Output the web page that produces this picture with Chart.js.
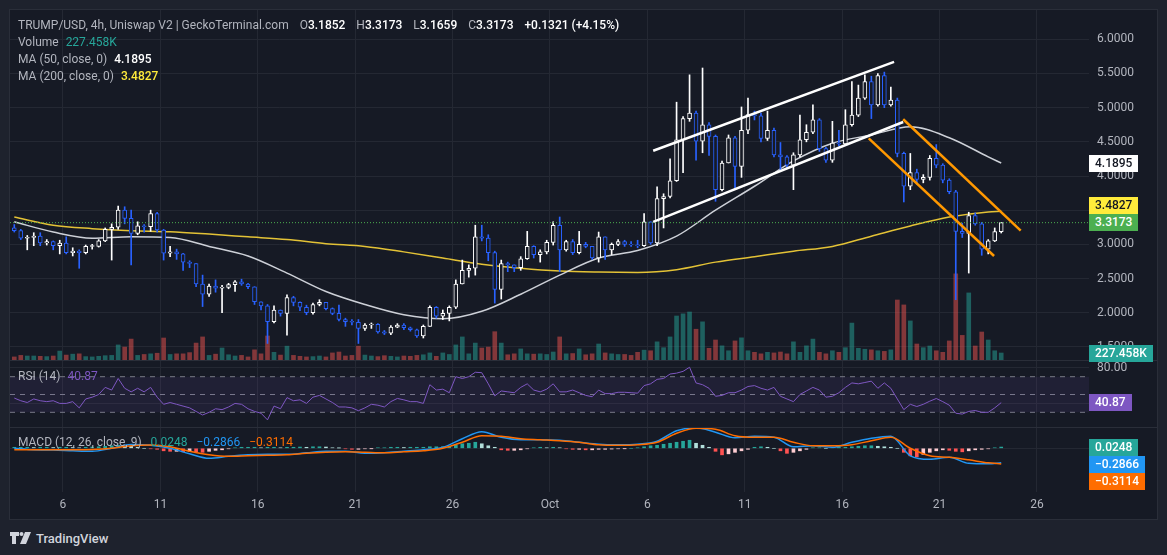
<!DOCTYPE html>
<html lang="en">
<head>
<meta charset="UTF-8">
<title>TRUMP/USD 4h</title>
<script src="https://cdn.jsdelivr.net/npm/chart.js"></script>
<style>
  html, body { margin: 0; padding: 0; }
  body { width: 1167px; height: 555px; position: relative; overflow: hidden; background: #1e222d; font-family: Roboto, sans-serif; }
  #panel { position: absolute; left: 9px; top: 9px; width: 1149px; height: 511px; box-sizing: border-box; background: #161a25; border: 1px solid #2a2e39; }
  canvas { position: absolute; left: 10px; }
  .sep { position: absolute; left: 10px; width: 1147px; height: 1px; background: #2a2e39; }
  .leg { position: absolute; left: 18px; font-size: 12px; line-height: 16px; color: #b2b5be; white-space: nowrap; }
  .leg b { font-weight: 500; color: #ffffff; }
  .leg .g { margin-left: 8px; }
  .tag { position: absolute; left: 1089px; height: 17px; line-height: 17px; padding: 0 6px; font-size: 12px; font-weight: 500; white-space: nowrap; }
  #logo { position: absolute; left: 10px; top: 530px; height: 16px; display: flex; align-items: center; color: #d1d4dc; font-size: 13px; font-weight: 500; }
</style>
</head>
<body>
<div id="panel"></div>
<canvas id="main" width="1147" height="350" style="top:10px"></canvas>
<canvas id="rsi" width="1147" height="67" style="top:360px"></canvas>
<canvas id="macd" width="1147" height="92" style="top:427px"></canvas>
<div class="sep" style="top:360px"></div>
<div class="sep" style="top:427px"></div>

<div class="leg" style="top:17px">TRUMP/USD, 4h, Uniswap V2 | GeckoTerminal.com
  <span class="g">O</span><b>3.1852</b> <span class="g">H</span><b>3.3173</b> <span class="g">L</span><b>3.1659</b> <span class="g">C</span><b>3.3173</b> <b class="g">+0.1321 (+4.15%)</b></div>
<div class="leg" style="top:34px">Volume <span style="margin-left:4px;color:#26a69a">227.458K</span></div>
<div class="leg" style="top:51px">MA (50, close, 0) <b style="margin-left:4px">4.1895</b></div>
<div class="leg" style="top:68px">MA (200, close, 0) <b style="margin-left:4px;color:#ffeb3b">3.4827</b></div>
<div class="leg" style="top:368px">RSI (14) <span style="margin-left:4px;color:#7e57c2">40.87</span></div>
<div class="leg" style="top:434px">MACD (12, 26, close, 9) <span style="margin-left:6px;color:#26a69a">0.0248</span> <span style="margin-left:6px;color:#2196f3">&minus;0.2866</span> <span style="margin-left:6px;color:#ff6d00">&minus;0.3114</span></div>

<div id="logo">
  <svg width="22" height="12" viewBox="0 0 22 12" style="margin-right:4px">
    <path d="M0 0h9v4H6v8H2V4H0z M15 0h6l-5 12h-6z" fill="#d1d4dc"/>
    <circle cx="11.5" cy="2" r="2" fill="#d1d4dc"/>
  </svg>TradingView
</div>

<script>
// time axis: candle index, 3 candles per day, first candle on Sep 3 12:00
const firstDay = 3.5;
const perDay = 3;
const tickDays = [6, 11, 16, 21, 26, 31, 36, 41, 46, 51, 56];
const tickLabels = ['6', '11', '16', '21', '26', 'Oct', '6', '11', '16', '21', '26'];

const firstOpen = 3.24;
const closes = [
  3.20, 3.09, 3.10, 3.12, 3.02, 3.04, 2.98, 3.02, 2.88, 2.90,
  2.88, 2.97, 2.97, 3.05, 3.22, 3.25, 3.50, 3.38, 3.16, 3.27,
  3.26, 3.45, 3.21, 2.87, 2.89, 2.86, 2.74, 2.72, 2.42, 2.27,
  2.39, 2.36, 2.37, 2.41, 2.45, 2.42, 2.38, 2.16, 2.10, 1.87,
  2.04, 1.99, 2.22, 2.15, 2.08, 2.00, 2.12, 2.15, 2.06, 1.99,
  1.90, 1.87, 1.86, 1.77, 1.82, 1.83, 1.72, 1.70, 1.79, 1.82,
  1.78, 1.75, 1.66, 1.80, 2.08, 1.95, 1.99, 2.08, 2.42, 2.62,
  2.65, 3.11, 3.09, 2.88, 2.34, 2.72, 2.70, 2.66, 2.79, 2.97,
  2.85, 2.89, 3.03, 3.28, 2.92, 3.04, 2.88, 3.00, 2.97, 2.80,
  3.11, 2.92, 3.00, 3.04, 3.00, 2.99, 2.98, 3.33, 3.02, 3.67,
  3.70, 3.93, 4.53, 4.84, 4.92, 4.51, 4.75, 4.58, 3.80, 4.19,
  4.56, 4.14, 4.67, 4.90, 4.88, 4.55, 4.67, 4.31, 4.28, 4.16,
  4.31, 4.53, 4.64, 4.82, 4.40, 4.23, 4.48, 4.47, 4.75, 4.89,
  5.14, 5.38, 5.04, 5.47, 5.04, 5.11, 4.33, 3.85, 4.05, 3.95,
  3.98, 4.26, 4.16, 3.94, 3.77, 3.19, 3.16, 3.42, 3.30, 2.93,
  3.05, 3.1852, 3.3173
];
const highs = [
  3.29, 3.22, 3.13, 3.17, 3.17, 3.07, 3.05, 3.06, 3.11, 2.95,
  2.92, 2.99, 3.00, 3.07, 3.24, 3.30, 3.56, 3.55, 3.50, 3.33,
  3.29, 3.50, 3.47, 3.22, 2.97, 2.93, 2.87, 2.76, 2.72, 2.55,
  2.42, 2.48, 2.40, 2.43, 2.47, 2.49, 2.43, 2.38, 2.16, 2.12,
  2.10, 2.04, 2.26, 2.24, 2.16, 2.11, 2.14, 2.19, 2.15, 2.07,
  2.11, 1.92, 1.90, 1.90, 1.84, 1.85, 1.84, 1.74, 1.81, 1.84,
  1.84, 1.79, 1.76, 1.82, 2.10, 2.09, 2.04, 2.10, 2.48, 2.77,
  2.70, 3.28, 3.28, 3.14, 2.90, 2.77, 2.74, 2.70, 2.82, 3.19,
  2.98, 2.92, 3.06, 3.33, 3.40, 3.06, 3.07, 3.19, 3.03, 2.97,
  3.18, 3.10, 3.02, 3.07, 3.06, 3.04, 3.06, 3.45, 3.33, 3.84,
  3.74, 4.25, 5.08, 4.87, 5.48, 4.95, 5.58, 4.78, 4.60, 4.22,
  4.60, 4.58, 5.01, 5.14, 4.95, 4.92, 4.95, 4.70, 4.49, 4.30,
  4.34, 4.89, 4.75, 5.04, 4.84, 4.42, 4.80, 4.67, 4.97, 5.38,
  5.33, 5.48, 5.46, 5.50, 5.52, 5.30, 5.14, 4.35, 4.33, 4.10,
  4.02, 4.30, 4.46, 4.18, 3.96, 3.79, 3.31, 3.47, 3.46, 3.32,
  3.07, 3.24, 3.3173
];
const lows = [
  3.18, 3.07, 2.92, 2.98, 2.98, 2.99, 2.92, 2.86, 2.86, 2.83,
  2.65, 2.86, 2.93, 2.96, 3.04, 2.77, 3.22, 3.30, 2.70, 3.14,
  3.18, 3.19, 3.18, 2.77, 2.82, 2.78, 2.62, 2.66, 2.38, 2.09,
  2.24, 2.30, 2.00, 2.35, 2.31, 2.40, 2.35, 2.12, 2.04, 1.55,
  1.85, 1.95, 1.67, 2.10, 2.03, 1.97, 1.98, 2.10, 2.04, 1.97,
  1.88, 1.80, 1.82, 1.55, 1.74, 1.77, 1.70, 1.68, 1.68, 1.78,
  1.75, 1.73, 1.64, 1.63, 1.84, 1.92, 1.90, 1.88, 2.06, 2.44,
  2.52, 2.55, 3.05, 2.76, 2.14, 2.20, 2.60, 2.60, 2.62, 2.78,
  2.80, 2.74, 2.86, 2.99, 2.60, 2.90, 2.85, 2.86, 2.95, 2.78,
  2.74, 2.78, 2.85, 2.98, 2.97, 2.97, 2.95, 2.97, 3.00, 2.98,
  3.24, 3.68, 3.92, 4.05, 4.80, 4.23, 4.34, 4.30, 3.63, 3.78,
  4.20, 3.80, 3.98, 4.62, 4.82, 4.50, 4.52, 4.28, 4.09, 4.12,
  3.80, 4.28, 4.50, 4.62, 4.36, 4.20, 4.20, 4.44, 4.45, 4.73,
  4.87, 5.12, 4.84, 5.02, 5.00, 5.02, 4.28, 3.62, 3.80, 3.88,
  3.90, 3.94, 4.12, 3.90, 3.74, 2.19, 3.10, 2.58, 3.28, 2.84,
  2.86, 3.04, 3.1659
];
// volume in thousands
const volumes = [
  100, 150, 130, 130, 120, 110, 130, 290, 160, 190,
  200, 110, 100, 120, 140, 150, 490, 420, 680, 150,
  180, 200, 220, 715, 180, 200, 200, 240, 550, 750,
  150, 190, 390, 170, 130, 150, 100, 330, 200, 780,
  250, 160, 450, 150, 120, 100, 110, 130, 100, 230,
  260, 130, 150, 450, 160, 130, 110, 140, 120, 100,
  130, 120, 150, 170, 230, 120, 230, 180, 490, 750,
  200, 550, 390, 420, 920, 550, 170, 200, 360, 200,
  190, 200, 180, 260, 750, 200, 210, 360, 170, 200,
  520, 230, 200, 180, 180, 150, 250, 320, 300, 590,
  400, 750, 1430, 1500, 1560, 1000, 1240, 380, 650, 460,
  300, 620, 720, 300, 250, 200, 250, 230, 260, 200,
  590, 250, 460, 680, 250, 200, 300, 250, 400, 1200,
  380, 350, 330, 300, 280, 330, 1950, 1790, 1270, 520,
  400, 455, 300, 250, 620, 2800, 800, 2180, 455, 910,
  650, 300, 227.458
];

// moving averages, read every 6th candle
const maIdx = [0, 6, 12, 18, 24, 30, 36, 42, 48, 54, 60, 66, 72, 78, 84, 90, 96, 102, 108, 114, 120, 126, 132, 138, 144, 150, 152];
const ma50 = [3.33, 3.18, 3.09, 3.11, 3.10, 2.97, 2.83, 2.58, 2.31, 2.12, 1.97, 1.91, 2.02, 2.27, 2.55, 2.80, 2.91, 3.12, 3.50, 3.85, 4.22, 4.48, 4.60, 4.72, 4.56, 4.28, 4.1895];
const ma200 = [3.40, 3.28, 3.23, 3.20, 3.185, 3.15, 3.11, 3.07, 3.01, 2.97, 2.89, 2.80, 2.71, 2.65, 2.61, 2.595, 2.59, 2.63, 2.74, 2.82, 2.90, 2.97, 3.12, 3.27, 3.40, 3.475, 3.4827];

// drawn channels: [start index, end index] and [start price, end price]
const trendX = [[98.4, 135.5], [98.4, 136.9], [136.9, 155.0], [131.6, 150.9]];
const trendY = [[4.37, 5.67], [3.33, 4.79], [4.83, 3.20], [4.55, 2.83]];

const rsi = [
  46, 43, 41, 45, 43, 42, 43, 40, 40, 42,
  35, 45, 47, 50, 58, 55, 68, 57, 53, 57,
  53, 58, 47, 39, 41, 39, 37, 35, 31, 27,
  30, 34, 33, 36, 40, 39, 34, 31, 29, 21.5,
  37, 34, 46.5, 43, 44, 40, 47, 49, 45, 41,
  36, 36, 35, 31.8, 35, 39, 38, 36, 42, 45.6,
  44, 42, 42, 40, 61, 55, 56, 52, 70, 68,
  70, 75, 74.5, 62, 48.5, 54, 53, 52, 58, 62,
  55, 53, 56, 62, 53, 53, 55, 52, 49, 47.5,
  55, 51, 51, 52.5, 52.5, 52, 51.5, 60, 62, 67,
  68, 73, 74, 76, 80.6, 63, 61, 57, 48, 49,
  52, 52, 55, 59, 60, 57, 55, 58, 48, 45,
  42, 50, 54, 58, 55, 47, 48, 52, 58, 63,
  62, 63.5, 65, 57, 63, 57, 45, 33, 39, 36.5,
  39, 42.5, 45.5, 42, 38, 29, 28, 31, 32, 30,
  30, 35, 40.87
];
const rsiLevels = [70, 50, 30];

// MACD lines read every 3rd candle
const macdIdx = [0, 3, 6, 9, 12, 15, 18, 21, 24, 27, 30, 33, 36, 39, 42, 45, 48, 51, 54, 57, 60, 63, 66, 69, 72, 75, 78, 81, 84, 87, 90, 93, 96, 99, 102, 105, 108, 111, 114, 117, 120, 123, 126, 129, 132, 135, 138, 141, 144, 147, 150, 152];
const macdLine = [0.0, -0.03, -0.035, -0.05, -0.06, 0.0, 0.075, 0.06, 0.0, -0.11, -0.2, -0.16, -0.13, -0.12, -0.12, -0.09, -0.06, -0.06, -0.10, -0.09, -0.06, -0.03, 0.02, 0.19, 0.33, 0.22, 0.17, 0.17, 0.16, 0.12, 0.08, 0.07, 0.08, 0.14, 0.35, 0.41, 0.32, 0.21, 0.24, 0.22, 0.03, 0.05, 0.02, 0.12, 0.20, 0.24, -0.15, -0.22, -0.18, -0.30, -0.31, -0.2866];
const signalLine = [-0.03, -0.03, -0.03, -0.03, -0.025, 0.0, 0.05, 0.065, 0.03, -0.06, -0.13, -0.16, -0.15, -0.14, -0.13, -0.10, -0.08, -0.07, -0.08, -0.09, -0.07, -0.05, 0.0, 0.12, 0.25, 0.24, 0.19, 0.17, 0.15, 0.12, 0.07, 0.06, 0.07, 0.12, 0.30, 0.40, 0.38, 0.25, 0.22, 0.22, 0.12, 0.05, 0.05, 0.07, 0.15, 0.22, 0.0, -0.15, -0.18, -0.23, -0.29, -0.3114];
const histogram = [
  0.02, 0.02, 0.02, 0.015, 0.02, 0.02, 0.015, 0.02, 0.02, 0.015,
  0.01, 0.02, 0.025, 0.03, 0.04, 0.05, 0.06, 0.05, 0.04, 0.02,
  0.0, -0.01, -0.02, -0.05, -0.06, -0.06, -0.07, -0.06, -0.07, -0.08,
  -0.06, -0.04, -0.03, -0.01, 0.01, 0.02, 0.02, 0.02, 0.01, 0.02,
  0.02, 0.01, 0.02, 0.02, 0.025, 0.02, 0.03, 0.03, 0.025, 0.01,
  0.005, -0.01, -0.02, -0.02, -0.01, -0.005, 0.01, 0.01, 0.02, 0.02,
  0.015, 0.02, 0.02, 0.02, 0.03, 0.03, 0.03, 0.04, 0.07, 0.09,
  0.10, 0.12, 0.09, 0.05, 0.02, -0.03, -0.04, -0.04, -0.03, -0.01,
  0.01, 0.02, 0.01, 0.02, 0.01, -0.01, -0.02, -0.02, -0.03, -0.03,
  -0.02, -0.02, -0.015, -0.01, -0.005, 0.0, 0.01, 0.03, 0.05, 0.06,
  0.08, 0.10, 0.12, 0.14, 0.16, 0.10, 0.06, 0.02, -0.06, -0.13,
  -0.11, -0.08, -0.05, -0.02, 0.02, 0.03, 0.02, 0.0, -0.05, -0.10,
  -0.08, -0.05, -0.02, 0.01, 0.01, 0.0, 0.01, 0.02, 0.02, 0.03,
  0.04, 0.05, 0.05, 0.04, 0.03, 0.02, 0.0, -0.08, -0.15, -0.17,
  -0.12, -0.08, -0.05, -0.03, -0.04, -0.06, -0.07, -0.05, -0.03, -0.02,
  -0.01, 0.01, 0.0248
];

// ---- view ranges (data units) ----
const xMin = -0.66, xMax = 165.52;
const priceMin = 1.308, priceMax = 6.4287;
const volMax = 11375;
const rsiMin = 13.5, rsiMax = 88.76;
const macdMin = -0.87, macdMax = 0.424;

const bg = '#161a25';
const gridColor = '#242833';
const upColor = '#ffffff';
const downColor = '#2962ff';

Chart.defaults.font.family = 'Roboto, sans-serif';
Chart.defaults.font.size = 12;

const tickIdx = tickDays.map(d => (d - firstDay) * perDay);

function xScale(showLabels) {
  return {
    type: 'linear', min: xMin, max: xMax, bounds: 'data', offset: false,
    grid: { color: gridColor, drawTicks: false, offset: false },
    border: { display: false },
    ticks: {
      display: showLabels, color: '#b2b5be', padding: 6, autoSkip: false, maxRotation: 0,
      callback: (v, i) => tickLabels[i]
    },
    afterBuildTicks: s => { s.ticks = tickIdx.map(v => ({ value: v })); },
    afterFit: s => { s.height = showLabels ? 27 : 0; s.paddingLeft = 0; s.paddingRight = 0; }
  };
}

function yScale(min, max, ticks, fmt) {
  return {
    type: 'linear', position: 'right', min: min, max: max, bounds: 'data',
    grid: { color: gridColor, drawTicks: false },
    border: { display: false },
    ticks: { color: '#b2b5be', padding: 8, callback: v => fmt(v) },
    afterBuildTicks: s => { s.ticks = ticks.map(v => ({ value: v })); },
    afterFit: s => { s.width = 68; s.paddingTop = 0; s.paddingBottom = 0; }
  };
}

const baseOptions = {
  responsive: false,
  animation: false,
  events: [],
  layout: { padding: 0 },
  plugins: { legend: { display: false }, tooltip: { enabled: false } }
};

// ---- main pane ----
const opens = closes.map((c, i) => i === 0 ? firstOpen : closes[i - 1]);
const isUp = closes.map((c, i) => c >= opens[i]);
const candleColor = isUp.map(u => u ? upColor : downColor);

const wickData = closes.map((c, i) => ({
  x: i, y: [Math.min(lows[i], opens[i], c), Math.max(highs[i], opens[i], c)]
}));
const bodyData = closes.map((c, i) => {
  const lo = Math.min(opens[i], c);
  const hi = Math.max(Math.max(opens[i], c), lo + 0.012);
  return { x: i, y: [lo, hi] };
});
const volData = volumes.map((v, i) => ({ x: i, y: v }));
const volColor = isUp.map(u => u ? 'rgba(38,166,154,0.5)' : 'rgba(239,83,80,0.5)');

const lastClose = closes[closes.length - 1];
const trendColors = ['#ffffff', '#ffffff', '#ff9800', '#ff9800'];

const mainDatasets = [
  { type: 'bar', data: volData, yAxisID: 'yv', backgroundColor: volColor, barThickness: 4, grouped: false, order: 10 },
  { type: 'line', data: maIdx.map((x, k) => ({ x: x, y: ma200[k] })), borderColor: '#e3c236', borderWidth: 1.5, pointRadius: 0, cubicInterpolationMode: 'monotone', order: 5 },
  { type: 'line', data: maIdx.map((x, k) => ({ x: x, y: ma50[k] })), borderColor: 'rgba(225,228,235,0.9)', borderWidth: 1.5, pointRadius: 0, cubicInterpolationMode: 'monotone', order: 4 },
  { type: 'bar', data: wickData, backgroundColor: candleColor, barThickness: 1, grouped: false, order: 3 },
  { type: 'bar', data: bodyData, backgroundColor: bg, borderColor: candleColor, borderWidth: 1, borderSkipped: false, barThickness: 4, grouped: false, order: 2 },
  { type: 'line', data: [{ x: xMin, y: lastClose }, { x: xMax, y: lastClose }], borderColor: '#4caf50', borderWidth: 1, borderDash: [1, 2], pointRadius: 0, order: 1 }
];
trendX.forEach((tx, k) => {
  mainDatasets.push({
    type: 'line', data: [{ x: tx[0], y: trendY[k][0] }, { x: tx[1], y: trendY[k][1] }],
    borderColor: trendColors[k], borderWidth: 2.5, pointRadius: 0, order: 0
  });
});

const priceTicks = [1.5, 2, 2.5, 3, 3.5, 4, 4.5, 5, 5.5, 6];
const mainChart = new Chart(document.getElementById('main'), {
  type: 'bar',
  data: { datasets: mainDatasets },
  options: Object.assign({}, baseOptions, {
    scales: {
      x: xScale(false),
      y: yScale(priceMin, priceMax, priceTicks, v => v.toFixed(4)),
      yv: { type: 'linear', display: false, min: 0, max: volMax }
    }
  })
});

// ---- RSI pane ----
const rsiDatasets = [
  { data: rsi.map((v, i) => ({ x: i, y: v })), borderColor: '#7e57c2', borderWidth: 1, pointRadius: 0, order: 0 }
];
rsiLevels.forEach((lv, k) => {
  rsiDatasets.push({
    data: [{ x: xMin, y: lv }, { x: xMax, y: lv }],
    borderColor: '#787b86', borderWidth: 1, borderDash: [5, 5], pointRadius: 0, order: 1,
    fill: k === 0 ? '+2' : false, backgroundColor: 'rgba(126,87,194,0.1)'
  });
});
const rsiChart = new Chart(document.getElementById('rsi'), {
  type: 'line',
  data: { datasets: rsiDatasets },
  options: Object.assign({}, baseOptions, {
    scales: {
      x: xScale(false),
      y: yScale(rsiMin, rsiMax, [40, 80], v => v.toFixed(2))
    }
  })
});

// ---- MACD pane ----
const histColor = histogram.map((h, i) => {
  const prev = i > 0 ? histogram[i - 1] : 0;
  if (h >= 0) return h >= prev ? '#26a69a' : '#b2dfdb';
  return h < prev ? '#ff5252' : '#ffcdd2';
});
const macdChart = new Chart(document.getElementById('macd'), {
  type: 'bar',
  data: {
    datasets: [
      { type: 'bar', data: histogram.map((v, i) => ({ x: i, y: v })), backgroundColor: histColor, barThickness: 3, grouped: false, order: 3 },
      { type: 'line', data: macdIdx.map((x, k) => ({ x: x, y: signalLine[k] })), borderColor: '#ff6d00', borderWidth: 1.5, pointRadius: 0, cubicInterpolationMode: 'monotone', order: 1 },
      { type: 'line', data: macdIdx.map((x, k) => ({ x: x, y: macdLine[k] })), borderColor: '#2196f3', borderWidth: 1.5, pointRadius: 0, cubicInterpolationMode: 'monotone', order: 2 }
    ]
  },
  options: Object.assign({}, baseOptions, {
    scales: {
      x: xScale(true),
      y: yScale(macdMin, macdMax, [0], v => v.toFixed(4))
    }
  })
});

// ---- price tags on the right axis ----
function placeTags(chart, axisId, top, tags) {
  const placed = [];
  const h = 17;
  tags.forEach(t => {
    let y = chart.scales[axisId].getPixelForValue(t.value) + top;
    const dir = t.dir || -1;
    let moved = true;
    while (moved) {
      moved = false;
      for (const p of placed) {
        if (Math.abs(p - y) < h) { y = p + dir * h; moved = true; }
      }
    }
    placed.push(y);
    const el = document.createElement('div');
    el.className = 'tag';
    el.textContent = t.text;
    el.style.top = (y - h / 2) + 'px';
    el.style.background = t.bg;
    el.style.color = t.fg;
    document.body.appendChild(el);
  });
}

placeTags(mainChart, 'y', 10, [
  { value: lastClose, text: '3.3173', bg: '#4caf50', fg: '#ffffff' },
  { value: ma50[ma50.length - 1], text: '4.1895', bg: '#ffffff', fg: '#131722' },
  { value: ma200[ma200.length - 1], text: '3.4827', bg: '#ffeb3b', fg: '#131722', dir: -1 }
]);
placeTags(mainChart, 'yv', 10, [
  { value: volumes[volumes.length - 1], text: '227.458K', bg: '#26a69a', fg: '#ffffff' }
]);
placeTags(rsiChart, 'y', 360, [
  { value: rsi[rsi.length - 1], text: '40.87', bg: '#7e57c2', fg: '#ffffff' }
]);
placeTags(macdChart, 'y', 427, [
  { value: histogram[histogram.length - 1], text: '0.0248', bg: '#26a69a', fg: '#ffffff' },
  { value: macdLine[macdLine.length - 1], text: '\u22120.2866', bg: '#2196f3', fg: '#ffffff', dir: 1 },
  { value: signalLine[signalLine.length - 1], text: '\u22120.3114', bg: '#ff6d00', fg: '#ffffff', dir: 1 }
]);
</script>
</body>
</html>
